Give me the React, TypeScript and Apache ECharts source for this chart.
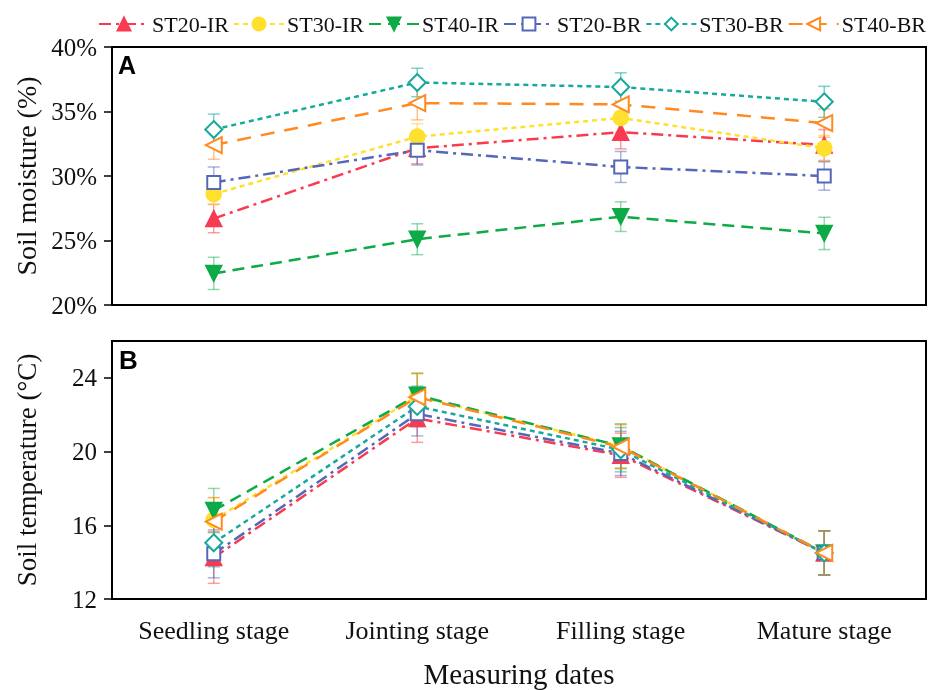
import React, { useEffect, useRef } from 'react';
import * as echarts from 'echarts';

const categories = ['Seedling stage', 'Jointing stage', 'Filling stage', 'Mature stage'];
const seriesNames = ['ST20-IR', 'ST30-IR', 'ST40-IR', 'ST20-BR', 'ST30-BR', 'ST40-BR'];

// Soil moisture (%) means and error
const moistST20IR = [26.7, 32.15, 33.4, 32.4];
const moistST30IR = [28.6, 33.05, 34.5, 32.15];
const moistST40IR = [22.45, 25.1, 26.85, 25.55];
const moistST20BR = [29.5, 32.0, 30.7, 30.0];
const moistST30BR = [33.6, 37.25, 36.9, 35.75];
const moistST40BR = [32.4, 35.65, 35.55, 34.1];
const moistErrST20IR = [1.1, 1.2, 1.3, 1.2];
const moistErrST30IR = [0.8, 1.0, 1.1, 1.0];
const moistErrST40IR = [1.25, 1.2, 1.15, 1.25];
const moistErrST20BR = [1.2, 1.15, 1.2, 1.1];
const moistErrST30BR = [1.2, 1.1, 1.1, 1.2];
const moistErrST40BR = [1.1, 1.3, 1.2, 1.1];

// Soil temperature (°C) means and error
const tempST20IR = [14.25, 21.8, 19.8, 14.5];
const tempST30IR = [16.3, 23.0, 20.3, 14.5];
const tempST40IR = [16.8, 23.05, 20.3, 14.5];
const tempST20BR = [14.45, 22.05, 19.9, 14.5];
const tempST30BR = [15.05, 22.45, 20.1, 14.5];
const tempST40BR = [16.2, 22.95, 20.25, 14.5];
const tempErrST20IR = [1.4, 1.3, 1.2, 1.2];
const tempErrST30IR = [1.2, 1.2, 1.2, 1.2];
const tempErrST40IR = [1.2, 1.2, 1.2, 1.2];
const tempErrST20BR = [1.3, 1.2, 1.2, 1.2];
const tempErrST30BR = [1.3, 1.1, 1.2, 1.2];
const tempErrST40BR = [1.3, 1.3, 1.2, 1.2];

const moistTicks = [20, 25, 30, 35, 40];
const tempTicks = [12, 16, 20, 24];

const moistData = [moistST20IR, moistST30IR, moistST40IR, moistST20BR, moistST30BR, moistST40BR];
const moistErr = [moistErrST20IR, moistErrST30IR, moistErrST40IR, moistErrST20BR, moistErrST30BR, moistErrST40BR];
const tempData = [tempST20IR, tempST30IR, tempST40IR, tempST20BR, tempST30BR, tempST40BR];
const tempErr = [tempErrST20IR, tempErrST30IR, tempErrST40IR, tempErrST20BR, tempErrST30BR, tempErrST40BR];

const colors = ['#F93B52', '#FFE02E', '#0DAA47', '#5567B8', '#16A99C', '#FF8A1F'];
const errColors = [
  'rgba(249,59,82,0.5)',
  'rgba(255,210,40,0.55)',
  'rgba(13,170,71,0.45)',
  'rgba(85,103,184,0.5)',
  'rgba(22,169,156,0.55)',
  'rgba(255,138,31,0.5)',
];
const dashes: any[] = [[12, 5, 3, 5], [5, 4], [12, 7], [12, 5, 3, 5], [5, 4], [14, 10]];
const symbols = ['triangle', 'circle', 'triangle', 'emptyRect', 'emptyDiamond', 'emptyTriangle'];
const symbolRotates = [0, 0, 180, 0, 0, 90];
const symbolSizes = [16, 15, 16, 13, 17, 16];

const FONT = 'Liberation Serif, Times New Roman, serif';

export default function App() {
  const ref = useRef<HTMLDivElement>(null);
  useEffect(() => {
    const chart = echarts.init(ref.current!, null, { renderer: 'svg' });

    const series: any[] = [];
    const panels = [
      { data: moistData, err: moistErr, axis: 0 },
      { data: tempData, err: tempErr, axis: 1 },
    ];
    panels.forEach((p) => {
      seriesNames.forEach((name, k) => {
        series.push({
          type: 'custom',
          name: name + ' error',
          xAxisIndex: p.axis,
          yAxisIndex: p.axis,
          z: 1,
          silent: true,
          data: p.data[k].map((v, i) => [i, v - p.err[k][i], v + p.err[k][i]]),
          encode: { x: 0, y: [1, 2] },
          renderItem: (params: any, api: any) => {
            const x = api.value(0);
            const top = api.coord([x, api.value(2)]);
            const bot = api.coord([x, api.value(1)]);
            const w = 6;
            const style = { stroke: errColors[k], lineWidth: 1.5 };
            return {
              type: 'group',
              children: [
                { type: 'line', shape: { x1: top[0], y1: top[1], x2: bot[0], y2: bot[1] }, style },
                { type: 'line', shape: { x1: top[0] - w, y1: top[1], x2: top[0] + w, y2: top[1] }, style },
                { type: 'line', shape: { x1: bot[0] - w, y1: bot[1], x2: bot[0] + w, y2: bot[1] }, style },
              ],
            };
          },
        });
      });
      seriesNames.forEach((name, k) => {
        series.push({
          type: 'line',
          name,
          xAxisIndex: p.axis,
          yAxisIndex: p.axis,
          z: 3,
          data: p.data[k],
          symbol: symbols[k],
          symbolRotate: symbolRotates[k],
          symbolSize: symbolSizes[k],
          showAllSymbol: true,
          lineStyle: { color: colors[k], width: 2.5, type: dashes[k] },
          itemStyle: { color: colors[k], borderColor: colors[k], borderWidth: 1.5 },
        });
      });
    });

    const axisLineStyle = { lineStyle: { color: '#000', width: 2 } };
    const tickStyle = { lineStyle: { color: '#000', width: 1.5 } };

    const option: any = {
      animation: false,
      textStyle: { fontFamily: FONT },
      legend: {
        data: seriesNames,
        left: 93,
        top: 8,
        width: 851,
        itemWidth: 50,
        itemHeight: 16,
        itemGap: 4,
        textStyle: { fontFamily: FONT, fontSize: 22, color: '#111', padding: [0, 0, 0, -2] },
      },
      grid: [
        { left: 112, right: 18, top: 47, height: 258, show: true, borderColor: '#000', borderWidth: 2, backgroundColor: 'transparent' },
        { left: 112, right: 18, top: 341, height: 258, show: true, borderColor: '#000', borderWidth: 2, backgroundColor: 'transparent' },
      ],
      xAxis: [
        {
          type: 'category',
          gridIndex: 0,
          data: categories,
          boundaryGap: true,
          axisLine: axisLineStyle,
          axisTick: { ...tickStyle, alignWithLabel: true, length: 10 },
          axisLabel: { show: false },
        },
        {
          type: 'category',
          gridIndex: 1,
          data: categories,
          boundaryGap: true,
          axisLine: axisLineStyle,
          axisTick: { ...tickStyle, alignWithLabel: true, length: 10 },
          axisLabel: { fontFamily: FONT, fontSize: 26, color: '#111', margin: 18, interval: 0 },
          name: 'Measuring dates',
          nameLocation: 'middle',
          nameGap: 60,
          nameTextStyle: { fontFamily: FONT, fontSize: 29, color: '#111' },
        },
      ],
      yAxis: [
        {
          type: 'value',
          gridIndex: 0,
          min: 20,
          max: 40,
          interval: 5,
          splitLine: { show: false },
          axisLine: { show: true, ...axisLineStyle },
          axisTick: { show: true, ...tickStyle, length: 8, customValues: moistTicks },
          axisLabel: { fontFamily: FONT, fontSize: 25, color: '#111', margin: 15, formatter: '{value}%', customValues: moistTicks },
          name: 'Soil moisture (%)',
          nameLocation: 'middle',
          nameGap: 72,
          nameTextStyle: { fontFamily: FONT, fontSize: 28, color: '#111' },
        },
        {
          type: 'value',
          gridIndex: 1,
          min: 12,
          max: 26,
          interval: 4,
          splitLine: { show: false },
          axisLine: { show: true, ...axisLineStyle },
          axisTick: { show: true, ...tickStyle, length: 8, customValues: tempTicks },
          axisLabel: { fontFamily: FONT, fontSize: 25, color: '#111', margin: 15, customValues: tempTicks },
          name: 'Soil temperature (°C)',
          nameLocation: 'middle',
          nameGap: 72,
          nameTextStyle: { fontFamily: FONT, fontSize: 27, color: '#111' },
        },
      ],
      graphic: [
        { type: 'text', left: 118, top: 52, style: { text: 'A', font: 'bold 25px Liberation Sans, Arial, sans-serif', fill: '#000' } },
        { type: 'text', left: 119, top: 347, style: { text: 'B', font: 'bold 26px Liberation Sans, Arial, sans-serif', fill: '#000' } },
      ],
      series,
    };
    chart.setOption(option);
    return () => chart.dispose();
  }, []);
  return <div ref={ref} style={{ position: 'fixed', left: 0, top: 0, width: 944, height: 690 }} />;
}
